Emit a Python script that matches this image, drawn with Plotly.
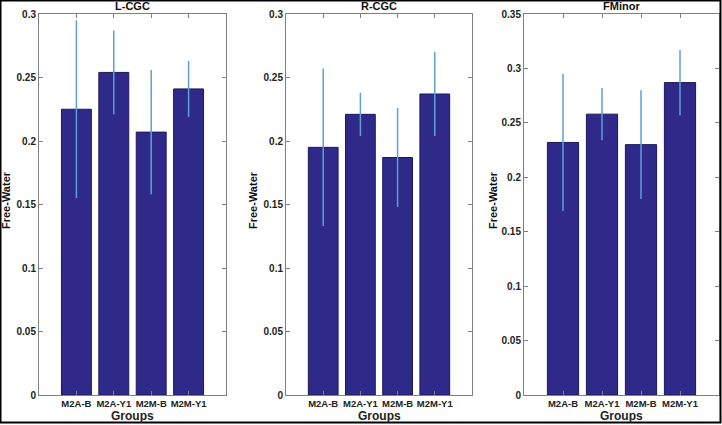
import plotly.graph_objects as go

groups = ["M2A-B", "M2A-Y1", "M2M-B", "M2M-Y1"]
titles = ["L-CGC", "R-CGC", "FMinor"]
lcgc_mean = [0.225, 0.254, 0.207, 0.241]
lcgc_err = [0.070, 0.033, 0.049, 0.022]
rcgc_mean = [0.195, 0.221, 0.187, 0.237]
rcgc_err = [0.062, 0.017, 0.039, 0.033]
fminor_mean = [0.232, 0.258, 0.230, 0.287]
fminor_err = [0.063, 0.024, 0.050, 0.030]
y_max = [0.3, 0.3, 0.35]

means = [lcgc_mean, rcgc_mean, fminor_mean]
errs = [lcgc_err, rcgc_err, fminor_err]

W, H = 722, 425
x_doms = [(39, 226), (286, 472), (524, 719)]
y_top, y_bot = 14, 395
ylab_x = [6, 253, 493]

fig = go.Figure()
font_family = "Liberation Sans, Arial, sans-serif"
axis_col = "#808080"

for i in range(3):
    sfx = "" if i == 0 else str(i + 1)
    fig.add_trace(go.Bar(
        x=groups, y=means[i], width=0.8,
        marker=dict(color="#2f2a8a", line=dict(color="#1c1858", width=1)),
        error_y=dict(type="data", array=errs[i], visible=True, thickness=1.5,
                     width=0, color="#5c9fd9"),
        xaxis="x" + sfx, yaxis="y" + sfx, showlegend=False, hoverinfo="skip",
    ))
    x0, x1 = x_doms[i]
    ax = dict(
        domain=[x0 / W, x1 / W], anchor="y" + sfx, type="category",
        range=[-1, 4], showgrid=False, zeroline=False, automargin=False,
        showline=True, linecolor=axis_col, linewidth=1, mirror="allticks",
        ticks="inside", ticklen=4, tickcolor=axis_col, tickangle=0,
        tickfont=dict(family=font_family, size=9.5, color="#222", weight="bold"),
    )
    ay = dict(
        domain=[(H - y_bot) / H, (H - y_top) / H], anchor="x" + sfx,
        range=[0, y_max[i]], dtick=0.05, showgrid=False, zeroline=False,
        automargin=False,
        showline=True, linecolor=axis_col, linewidth=1, mirror="allticks",
        ticks="inside", ticklen=4, tickcolor=axis_col,
        tickfont=dict(family=font_family, size=10, color="#222", weight="bold"),
    )
    fig.update_layout(**{"xaxis" + sfx: ax, "yaxis" + sfx: ay})
    fig.add_annotation(
        text=titles[i], xref="paper", yref="paper",
        x=(x0 + x1) / 2 / W, y=(H - 6) / H, showarrow=False,
        xanchor="center", yanchor="middle",
        font=dict(family=font_family, size=11, color="#111", weight="bold"),
    )
    fig.add_annotation(
        text="Groups", xref="paper", yref="paper",
        x=(x0 + x1) / 2 / W, y=(H - 416) / H, showarrow=False,
        xanchor="center", yanchor="middle",
        font=dict(family=font_family, size=12, color="#222", weight="bold"),
    )
    fig.add_annotation(
        text="Free-Water", xref="paper", yref="paper",
        x=ylab_x[i] / W, y=(H - 200) / H, showarrow=False, textangle=-90,
        xanchor="center", yanchor="middle",
        font=dict(family=font_family, size=11, color="#111", weight="bold"),
    )

fig.add_shape(type="rect", xref="paper", yref="paper", x0=0.5 / W, x1=(W - 1.5) / W,
              y0=2.5 / H, y1=(H - 0.5) / H, line=dict(color="black", width=2))

fig.update_layout(
    width=W, height=H, margin=dict(l=0, r=0, t=0, b=0),
    paper_bgcolor="white", plot_bgcolor="white", bargap=0.2,
)

fig.write_html("out.html", config={"displayModeBar": False, "staticPlot": True},
               post_script="document.body.style.margin='0';document.body.style.overflow='hidden';")
